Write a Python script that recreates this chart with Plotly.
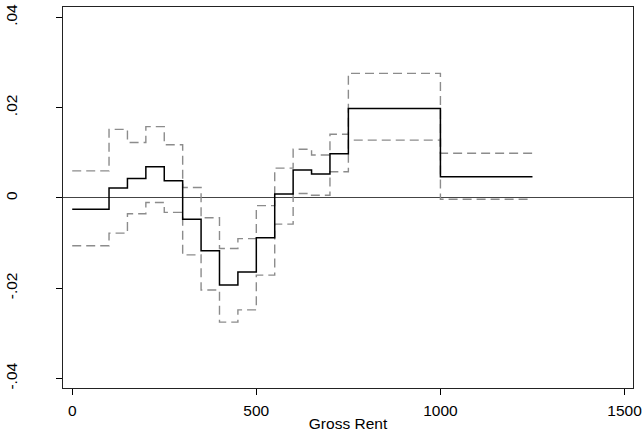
import plotly.graph_objects as go

# Interval start points (Gross Rent); last point closes the final step
rent = [0, 100, 150, 200, 250, 300, 350, 400, 450, 500, 550, 600, 650, 700, 750, 1000, 1250]

estimate = [-0.0025, 0.0022, 0.0043, 0.0069, 0.0038, -0.0047, -0.0117, -0.0193, -0.0164,
            -0.0088, 0.0009, 0.0062, 0.0053, 0.0098, 0.0198, 0.0047, 0.0047]
upper = [0.0060, 0.0152, 0.0123, 0.0158, 0.0118, 0.0023, -0.0044, -0.0112, -0.0090,
         -0.0017, 0.0066, 0.0108, 0.0095, 0.0141, 0.0276, 0.0099, 0.0099]
lower = [-0.0106, -0.0078, -0.0035, -0.0010, -0.0032, -0.0126, -0.0204, -0.0275, -0.0248,
         -0.0171, -0.0058, 0.0010, 0.0006, 0.0058, 0.0128, -0.0003, -0.0003]

x_ticks = [0, 500, 1000, 1500]
y_ticks = [-0.04, -0.02, 0, 0.02, 0.04]
y_tick_labels = ["-.04", "-.02", "0", ".02", ".04"]

FONT = "Liberation Sans, Arial, sans-serif"

fig = go.Figure()
for ys in (upper, lower):
    fig.add_trace(go.Scatter(x=rent, y=ys, mode="lines", line_shape="hv",
                             line=dict(color="#8c8c8c", width=1.4, dash="9px,5px"),
                             showlegend=False, hoverinfo="skip"))
fig.add_trace(go.Scatter(x=rent, y=estimate, mode="lines", line_shape="hv",
                         line=dict(color="#000000", width=1.5),
                         showlegend=False, hoverinfo="skip"))

fig.update_layout(
    width=644, height=435,
    margin=dict(l=63, r=11, t=7, b=47),
    paper_bgcolor="white", plot_bgcolor="white",
    font=dict(family=FONT, size=15.5, color="#000"),
)
fig.update_xaxes(
    range=[-25, 1523], tickvals=x_ticks, ticks="outside", ticklen=6, tickcolor="#000",
    showgrid=False, zeroline=False, showline=True, linecolor="#222", linewidth=1.3,
    mirror=True, ticklabelstandoff=2, automargin=False,
    title=dict(text="Gross Rent", standoff=0, font=dict(size=15.5)),
)
fig.update_yaxes(
    range=[-0.0421, 0.0423], tickvals=y_ticks, ticktext=y_tick_labels, tickangle=-90,
    ticks="outside", ticklen=6, tickcolor="#000",
    showgrid=False, zeroline=True, zerolinecolor="#444", zerolinewidth=1.2,
    showline=True, linecolor="#222", linewidth=1.3, mirror=True,
    ticklabelstandoff=33, automargin=False,
)

fig.write_html("out.html", config={"displayModeBar": False},
               post_script="document.body.style.margin='0';")
